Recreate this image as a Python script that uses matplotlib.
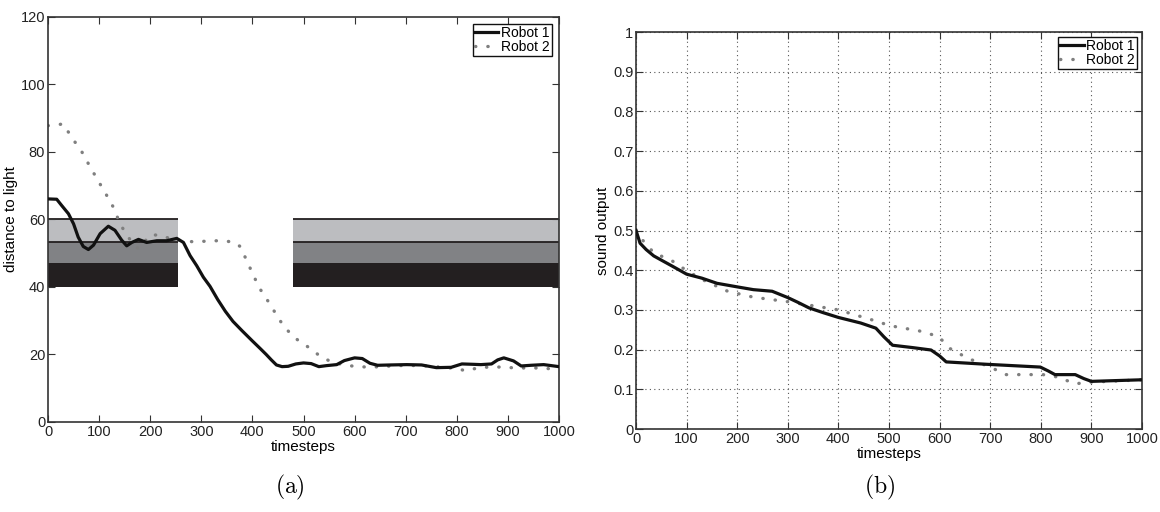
import matplotlib
matplotlib.use('Agg')
import matplotlib.pyplot as plt

plt.rcParams['font.family'] = ['Liberation Sans', 'DejaVu Sans']
plt.rcParams['mathtext.fontset'] = 'cm'

# (a) distance to light
t1a = [0, 17, 27, 40, 50, 59, 69, 79, 89, 102, 118, 131, 144, 154, 164, 177, 193, 213, 232, 252, 265, 278, 291,
       304, 317, 332, 347, 362, 380, 400, 415, 427, 437, 447, 458, 470, 485, 500, 515, 530, 545, 565, 580, 600,
       615, 630, 645, 670, 702, 731, 760, 789, 810, 830, 847, 868, 880, 892, 911, 926, 945, 970, 985, 1000]
d1a = [66.1, 66, 64.1, 61.7, 58.7, 54.8, 52, 51.1, 52.4, 55.8, 58, 56.8, 53.9, 52.2, 53.2, 54.1, 53.2, 53.7, 53.7,
       54.4, 53.2, 49.3, 46.3, 42.9, 40.2, 36.3, 32.8, 29.8, 27, 24, 21.8, 20, 18.4, 16.9, 16.4, 16.5, 17.2, 17.5,
       17.3, 16.4, 16.7, 17, 18.2, 19, 18.8, 17.4, 16.8, 16.9, 17, 16.9, 16.1, 16.2, 17.2, 17.1, 17, 17.2, 18.4,
       19, 18.1, 16.6, 16.8, 17, 16.7, 16.4]
t2a = [0, 30, 46, 66, 82, 98, 112, 128, 141, 157, 177, 200, 219, 245, 284, 330, 363, 376, 389, 402, 415, 434, 450,
       463, 485, 514, 535, 557, 586, 629, 660, 702, 740, 774, 800, 817, 847, 880, 919, 960, 991, 1000]
d2a = [87.8, 88.3, 84.4, 80.1, 75.7, 71.5, 67.9, 63.6, 58.7, 54.7, 51.3, 55.4, 55.4, 54, 53.4, 53.7, 53.4, 52,
       47.8, 43.4, 39.4, 35, 31, 28, 24.7, 21.7, 19.2, 17.7, 16.7, 16.2, 16.5, 16.8, 16.6, 16.2, 15.8, 15.2, 16.2,
       16.3, 16, 16, 15.7, 15.6]

# shaded target bands (start, width)
band_spans = [(0, 254), (480, 520)]
band_edges = [40, 47, 53.3, 60]
band_colors = ['#231f20', '#818285', '#bcbdc0']

# (b) sound output
t1b = [0, 8, 20, 35, 52, 72, 100, 130, 160, 200, 232, 269, 300, 320, 342, 370, 400, 444, 474, 490, 507, 547, 583,
       600, 613, 693, 799, 815, 828, 868, 885, 900, 1000]
s1b = [0.5, 0.468, 0.452, 0.436, 0.424, 0.41, 0.39, 0.38, 0.367, 0.358, 0.351, 0.347, 0.331, 0.319, 0.305, 0.293,
       0.281, 0.267, 0.254, 0.232, 0.211, 0.205, 0.199, 0.184, 0.169, 0.163, 0.156, 0.146, 0.137, 0.137, 0.127,
       0.12, 0.124]
t2b = [0, 10, 35, 72, 100, 130, 181, 232, 298, 357, 400, 466, 503, 560, 598, 620, 656, 700, 731, 804, 833, 868,
       900, 1000]
s2b = [0.5, 0.48, 0.444, 0.423, 0.399, 0.377, 0.347, 0.332, 0.321, 0.309, 0.3, 0.275, 0.26, 0.247, 0.233, 0.203,
       0.178, 0.156, 0.137, 0.137, 0.131, 0.114, 0.118, 0.124]

fig = plt.figure(figsize=(11.6, 5.12), dpi=100)
ax1 = fig.add_axes([0.0414, 0.1758, 0.4405, 0.791])
ax2 = fig.add_axes([0.5483, 0.1621, 0.4362, 0.7754])

for lo, hi, c in zip(band_edges[:-1], band_edges[1:], band_colors):
    ax1.broken_barh(band_spans, (lo, hi - lo), facecolor=c, edgecolor='none', zorder=1)
starts = [s[0] for s in band_spans]
ends = [s[0] + s[1] for s in band_spans]
for y in band_edges[2:]:
    ax1.hlines([y] * len(starts), starts, ends, color='#231f20', lw=1.3, zorder=1.5)

dots = (0, (0.1, 3.6))
ax1.plot(t1a, d1a, color='#111111', lw=2.3, label='Robot 1', zorder=3, solid_joinstyle='round')
ax1.plot(t2a, d2a, color='#7f7f7f', lw=2.4, ls=dots, dash_capstyle='round', label='Robot 2', zorder=2)
ax1.set_xlim(0, 1000)
ax1.set_ylim(0, 120)
ax1.set_xticks(range(0, 1001, 100))
ax1.set_yticks(range(0, 121, 20))
ax1.set_xlabel('timesteps', fontsize=11, labelpad=1)
ax1.set_ylabel('distance to light', fontsize=11, labelpad=2)

ax2.plot(t1b, s1b, color='#111111', lw=2.3, label='Robot 1', zorder=3, solid_joinstyle='round')
ax2.plot(t2b, s2b, color='#7f7f7f', lw=2.4, ls=dots, dash_capstyle='round', label='Robot 2', zorder=2)
ax2.set_xlim(0, 1000)
ax2.set_ylim(0, 1)
ax2.set_xticks(range(0, 1001, 100))
ax2.set_yticks([i / 10 for i in range(11)])
ax2.set_yticklabels(['0'] + ['0.%d' % i for i in range(1, 10)] + ['1'])
ax2.grid(True, ls=(0, (1, 3)), color='#555555', lw=0.8)
ax2.set_xlabel('timesteps', fontsize=11, labelpad=1)
ax2.set_ylabel('sound output', fontsize=11, labelpad=2)

for ax, pad in ((ax1, 0.5), (ax2, 0.35)):
    ax.tick_params(direction='in', top=True, right=True, labelsize=10.5, length=5, width=0.8,
                   color='#333333', pad=2, labelcolor='#222222')
    for s in ax.spines.values():
        s.set_color('#333333')
        s.set_linewidth(1.2)
    leg = ax.legend(loc='upper right', fontsize=10, handlelength=1.7, handletextpad=0.2,
                    borderpad=0.15, labelspacing=0.0, borderaxespad=pad, fancybox=False, framealpha=1)
    leg.get_frame().set_edgecolor('#111111')
    leg.get_frame().set_linewidth(1.0)

fig.text(290 / 1160, 1 - 487 / 512, r'$\mathrm{(a)}$', fontsize=17, ha='center', va='center')
fig.text(880 / 1160, 1 - 487 / 512, r'$\mathrm{(b)}$', fontsize=17, ha='center', va='center')

fig.savefig('out.png', dpi=100)
